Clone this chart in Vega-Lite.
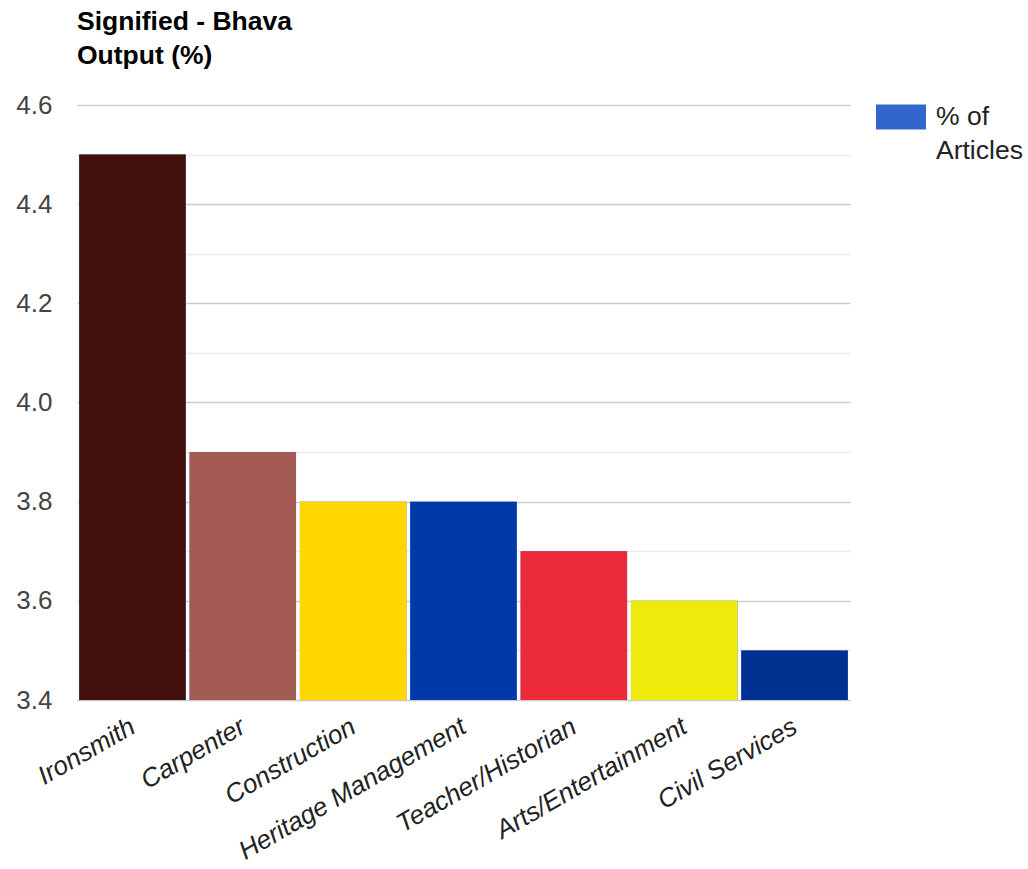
{
  "$schema": "https://vega.github.io/schema/vega-lite/v6.json",
  "width": 773,
  "height": 595,
  "padding": {"left": 15, "top": 8, "right": 2, "bottom": 2},
  "background": "white",
  "title": {
    "text": ["Signified - Bhava", "Output (%)"],
    "anchor": "start",
    "frame": "group",
    "font": "Liberation Sans",
    "fontSize": 26.5,
    "fontWeight": "bold",
    "color": "#000000",
    "lineHeight": 34,
    "offset": 23
  },
  "data": {
    "values": [
      {"occupation": "Ironsmith", "pct": 4.5, "col": "#420f0b"},
      {"occupation": "Carpenter", "pct": 3.9, "col": "#a25a52"},
      {"occupation": "Construction", "pct": 3.8, "col": "#ffd700"},
      {"occupation": "Heritage Management", "pct": 3.8, "col": "#003aa8"},
      {"occupation": "Teacher/Historian", "pct": 3.7, "col": "#ec2939"},
      {"occupation": "Arts/Entertainment", "pct": 3.6, "col": "#eeea0c"},
      {"occupation": "Civil Services", "pct": 3.5, "col": "#003090"}
    ]
  },
  "encoding": {
    "x": {
      "field": "occupation",
      "type": "nominal",
      "sort": null,
      "title": null,
      "scale": {"paddingInner": 0.035, "paddingOuter": 0.02},
      "axis": {
        "domain": false,
        "ticks": false,
        "labelAngle": -30,
        "labelAlign": "right",
        "labelBaseline": "top",
        "labelPadding": 13,
        "labelOffset": -6,
        "labelFont": "Liberation Sans",
        "labelFontSize": 26,
        "labelFontStyle": "italic",
        "labelColor": "#222222",
        "labelLimit": 400
      }
    },
    "y": {
      "field": "pct",
      "type": "quantitative",
      "title": null,
      "scale": {"domain": [3.4, 4.6], "zero": false, "nice": false},
      "axis": {
        "values": [3.4, 3.5, 3.6, 3.7, 3.8, 3.9, 4.0, 4.1, 4.2, 4.3, 4.4, 4.5, 4.6],
        "labelExpr": "round(datum.value * 10) % 2 == 0 ? format(datum.value, '.1f') : ''",
        "domain": false,
        "ticks": false,
        "labelPadding": 25,
        "labelFont": "Liberation Sans",
        "labelFontSize": 26,
        "labelColor": "#444444",
        "gridColor": {
          "condition": {"test": "round(datum.value * 10) % 2 == 0", "value": "#cccccc"},
          "value": "#ebebeb"
        },
        "gridWidth": 1.5
      }
    },
    "y2": {"datum": 3.4}
  },
  "layer": [
    {
      "mark": "bar",
      "encoding": {
        "color": {
          "datum": "% of Articles",
          "scale": {"range": ["#3366cc"]},
          "legend": {
            "title": null,
            "orient": "none",
            "legendX": 799,
            "legendY": -13,
            "padding": 0,
            "symbolType": "M-1,-0.5H1V0.5H-1Z",
            "symbolSize": 2500,
            "symbolStrokeWidth": 0,
            "labelFont": "Liberation Sans",
            "labelFontSize": 26.5,
            "labelColor": "#222222",
            "labelOffset": 10,
            "labelExpr": "['% of', 'Articles']",
            "encode": {
              "labels": {"update": {"lineHeight": {"value": 34}}}
            }
          }
        }
      }
    },
    {
      "mark": "bar",
      "encoding": {
        "fill": {"field": "col", "type": "nominal", "scale": null}
      }
    }
  ],
  "config": {
    "view": {"stroke": null},
    "font": "Liberation Sans"
  }
}
